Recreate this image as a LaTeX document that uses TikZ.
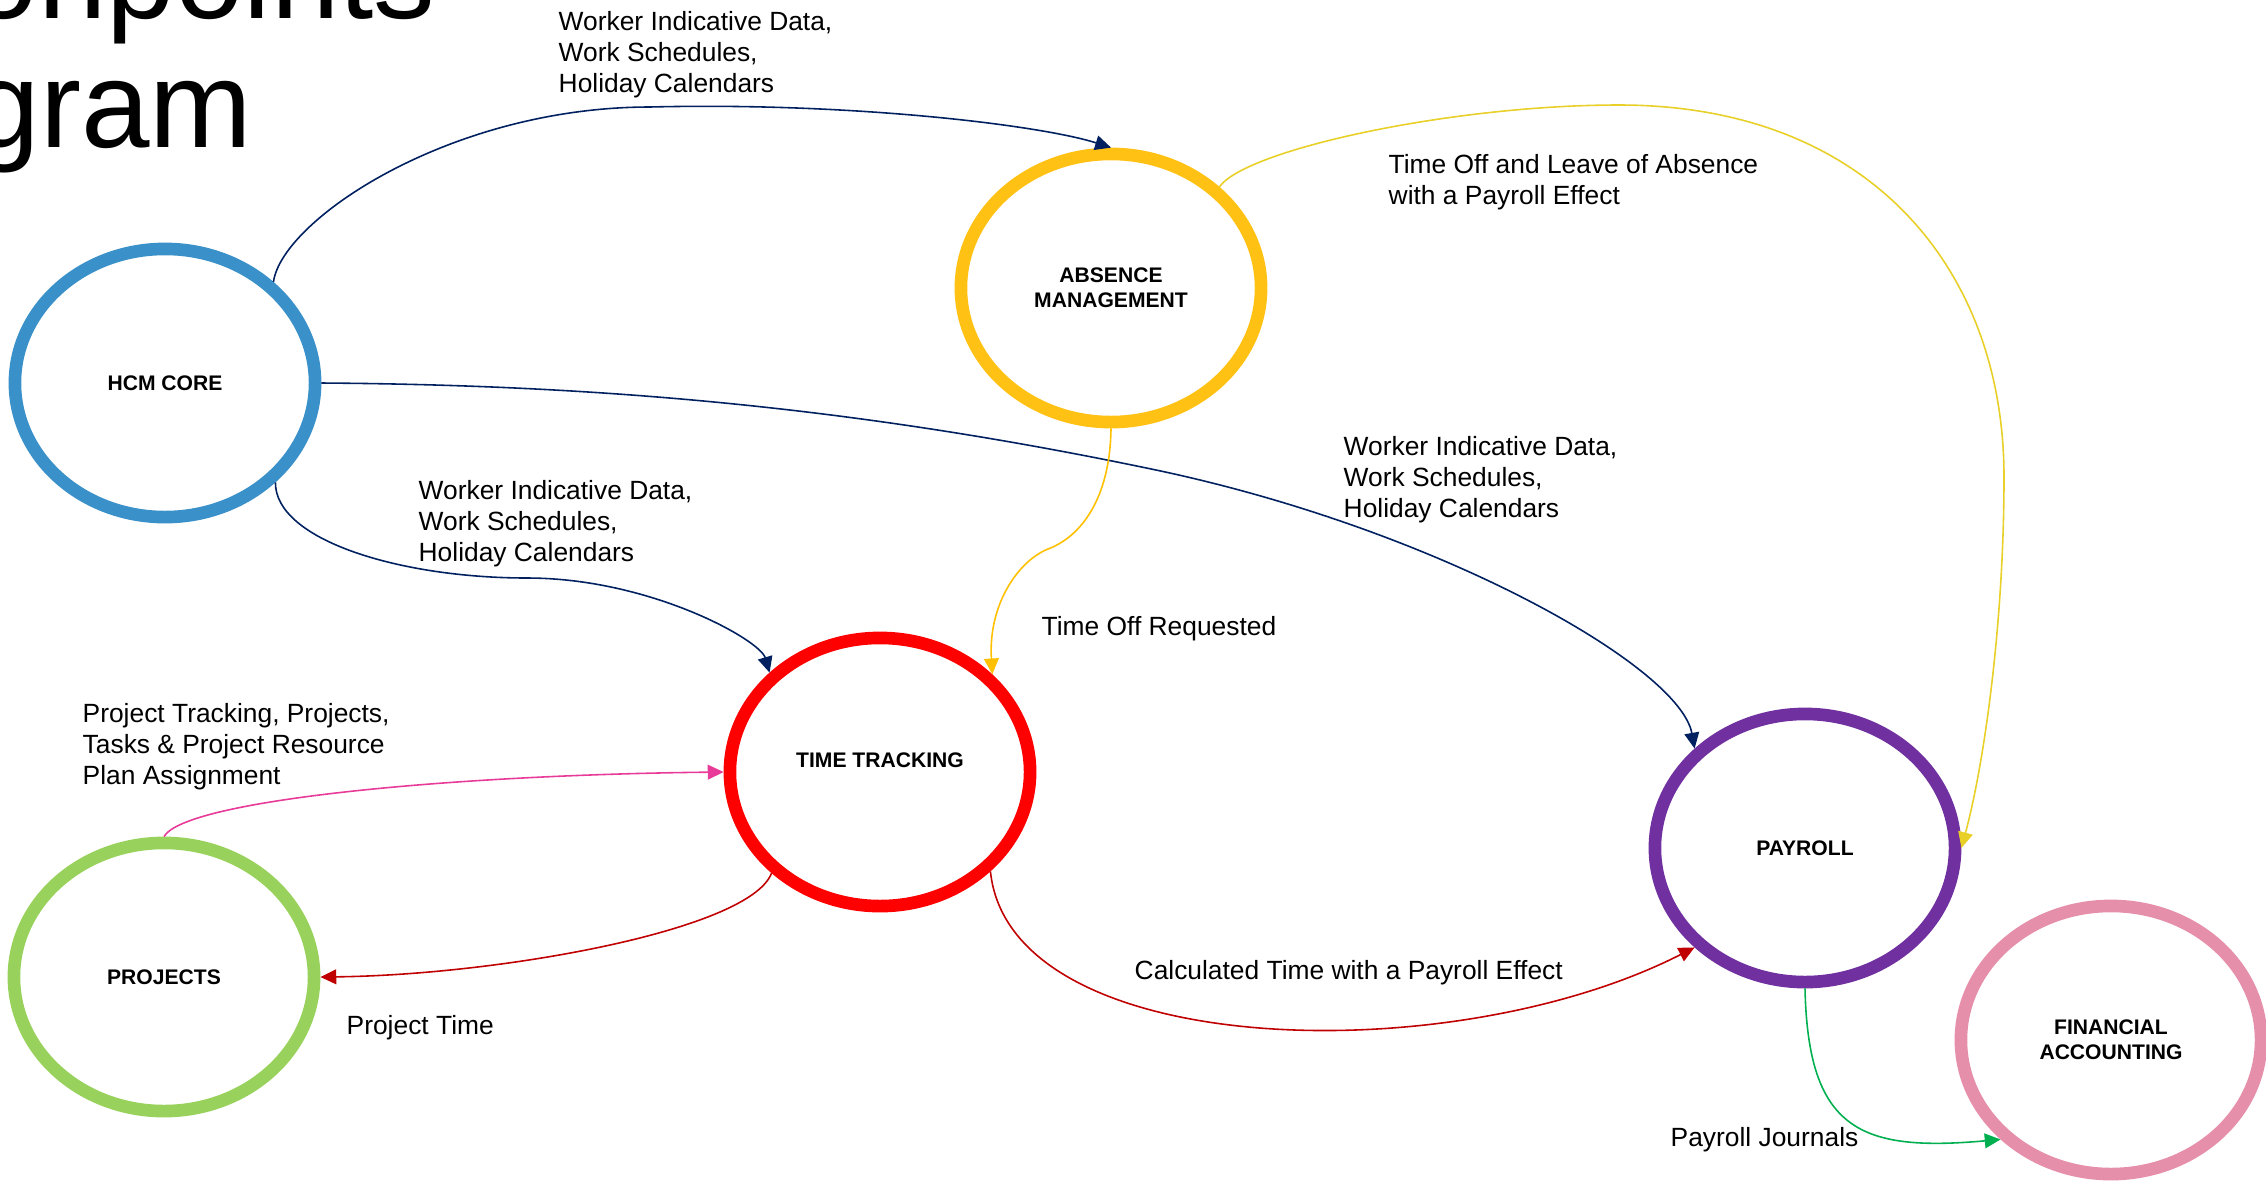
\documentclass[tikz,border=0pt]{standalone}
\usepackage{fontspec}
\setmainfont{Liberation Sans}
\usetikzlibrary{shapes.geometric, arrows.meta}

\definecolor{hcmblue}{RGB}{58,144,200}
\definecolor{absgold}{RGB}{255,194,20}
\definecolor{ttred}{RGB}{255,0,0}
\definecolor{paypurple}{RGB}{112,48,160}
\definecolor{finpink}{RGB}{229,143,170}
\definecolor{prjgreen}{RGB}{152,210,92}
\definecolor{navyline}{RGB}{0,32,96}
\definecolor{lemonline}{RGB}{232,208,40}
\definecolor{amberline}{RGB}{255,192,0}
\definecolor{pinkline}{RGB}{232,58,152}
\definecolor{redline}{RGB}{192,0,0}
\definecolor{greenline}{RGB}{0,176,80}

\begin{document}
\begin{tikzpicture}
    [
        x=0.01cm, y=-0.01cm,
        bubble/.style = {draw, shape=ellipse, minimum width=3cm, minimum height=2.68cm, line width=3.6pt, inner sep=0pt, align=center, font=\fontsize{6}{7.1}\selectfont\bfseries},
        lbl/.style = {inner sep=0pt, align=left, font=\fontsize{7.5}{8.8}\selectfont},
        flow/.style = {line width=0.45pt, -{Triangle[length=4.5pt, width=4.2pt]}},
        bigtitle/.style = {inner sep=0pt, font=\fontsize{35}{37}\selectfont},
    ]
    \useasboundingbox (0,0) rectangle (2266,1181);

    \node[bigtitle, anchor=base east] (ttl1) at (436,18)  {onpoints};
    \node[bigtitle, anchor=base east] (ttl2) at (253,147) {gram};

    \node[bubble, draw=hcmblue]   (hcm)      at (165,383)   {HCM CORE};
    \node[bubble, draw=absgold]   (absence)  at (1111,288)  {ABSENCE\\MANAGEMENT};
    \node[bubble, draw=ttred, text depth=6.8pt] (timetrk) at (880,772) {TIME TRACKING};
    \node[bubble, draw=paypurple] (payroll)  at (1805,848)  {PAYROLL};
    \node[bubble, draw=finpink]   (finacct)  at (2111,1040) {FINANCIAL\\ACCOUNTING};
    \node[bubble, draw=prjgreen]  (projects) at (164,977)   {PROJECTS};

    \node[lbl, anchor=north west] (wid1)  at (558,11)   {Worker Indicative Data,\\Work Schedules,\\Holiday Calendars};
    \node[lbl, anchor=north west] (tolpe) at (1388,154) {Time Off and Leave of Absence\\with a Payroll Effect};
    \node[lbl, anchor=north west] (wid2)  at (1343,436) {Worker Indicative Data,\\Work Schedules,\\Holiday Calendars};
    \node[lbl, anchor=north west] (wid3)  at (418,480)  {Worker Indicative Data,\\Work Schedules,\\Holiday Calendars};
    \node[lbl, anchor=base west]  (tor)   at (1041,635) {Time Off Requested};
    \node[lbl, anchor=north west] (ptrk)  at (82,703)   {Project Tracking, Projects,\\Tasks \& Project Resource\\Plan Assignment};
    \node[lbl, anchor=base west]  (ctpe)  at (1134,979) {Calculated Time with a Payroll Effect};
    \node[lbl, anchor=base west]  (ptime) at (346,1034) {Project Time};
    \node[lbl, anchor=base west]  (pjrn)  at (1670,1146) {Payroll Journals};

    % HCM core feeds
    \draw[flow, navyline] (hcm.43) .. controls (282,220) and (450,107) .. (650,107) .. controls (850,102) and (1040,125) .. (absence.north);
    \draw[flow, navyline] (hcm.east) .. controls (600,385) and (856,407) .. (1156,470) .. controls (1440,530) and (1680,667) .. (payroll.138);
    \draw[flow, navyline] (hcm.-42) .. controls (275,540) and (400,578) .. (527,578) .. controls (650,578) and (760,640) .. (timetrk.138);

    % absence
    \draw[flow, lemonline] (absence.43) .. controls (1245,150) and (1450,105) .. (1619,105) .. controls (1870,105) and (2004,270) .. (2004,477) .. controls (2004,620) and (1985,760) .. (payroll.east);
    \draw[flow, amberline] (absence.south) .. controls (1110,500) and (1080,537) .. (1048,549) .. controls (1018,561) and (988,605) .. (timetrk.41);

    % projects and time
    \draw[flow, pinkline] (projects.north) .. controls (185,800) and (450,775) .. (timetrk.west);
    \draw[flow, redline] (timetrk.223) .. controls (750,930) and (500,975) .. (projects.east);
    \draw[flow, redline] (timetrk.-42) .. controls (1010,1060) and (1450,1072) .. (payroll.222);
    \draw[flow, greenline] (payroll.south) .. controls (1808,1130) and (1860,1152) .. (finacct.222);
\end{tikzpicture}
\end{document}
